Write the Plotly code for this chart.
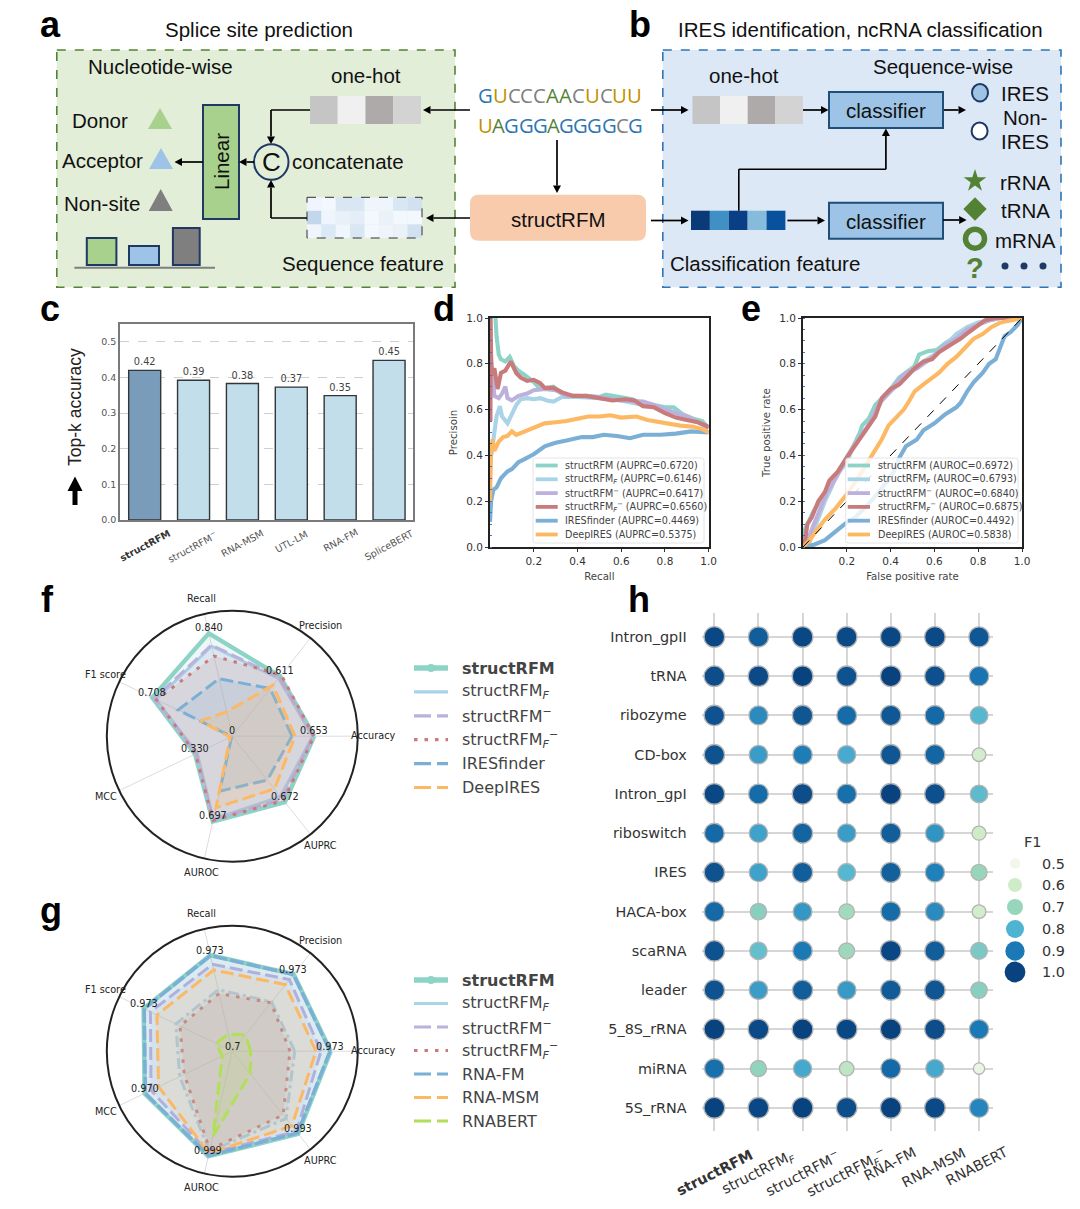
import numpy as np
import plotly.graph_objects as go

W, H = 1080, 1209
SANS = "Liberation Sans"
DJ = "DejaVu Sans"
DS = 20.5

# ---------- panel c
c_models = ["structRFM", "structRFM⁻", "RNA-MSM", "UTL-LM", "RNA-FM", "SpliceBERT"]
c_labels = ["<b>structRFM</b>", "structRFM<sup>−</sup>", "RNA-MSM", "UTL-LM", "RNA-FM", "SpliceBERT"]
c_values = [0.42, 0.392, 0.383, 0.373, 0.349, 0.448]

# ---------- panel d
d_names = ["structRFM (AUPRC=0.6720)", "structRFM<sub><i>F</i></sub> (AUPRC=0.6146)",
           "structRFM<sup>−</sup> (AUPRC=0.6417)", "structRFM<sub><i>F</i></sub><sup>−</sup> (AUPRC=0.6560)",
           "IRESfinder (AUPRC=0.4469)", "DeepIRES (AUPRC=0.5375)"]
d_teal_x = [.025,.03,.04,.05,.07,.09,.11,.13,.16,.2,.23,.26,.29,.33,.38,.44,.5,.53,.58,.65,.7,.75,.8,.84,.88,.93,.97,1]
d_teal_y = [1,.92,.84,.82,.81,.83,.79,.77,.75,.72,.69,.695,.70,.67,.655,.66,.655,.665,.655,.645,.625,.62,.61,.61,.58,.56,.55,.52]
d_lblue_x = [.003,.01,.02,.03,.045,.055,.08,.1,.12,.14,.17,.2,.23,.26,.29,.33,.4,.5,.6,.7,.8,.9,1]
d_lblue_y = [.38,.44,.50,.57,.615,.57,.54,.58,.62,.645,.65,.645,.65,.64,.635,.655,.655,.65,.64,.62,.60,.57,.52]
d_lilac_x = [.003,.01,.02,.04,.055,.07,.08,.1,.13,.17,.2,.25,.3,.35,.4,.5,.6,.7,.75,.8,.9,1]
d_lilac_y = [.85,.75,.66,.65,.67,.70,.65,.64,.66,.67,.685,.69,.685,.66,.66,.655,.64,.635,.62,.60,.57,.52]
d_red_x = [.002,.003,.006,.02,.035,.05,.07,.095,.12,.14,.17,.2,.23,.25,.29,.33,.38,.44,.5,.56,.62,.66,.7,.75,.8,.85,.9,.95,1]
d_red_y = [.55,1,.75,.78,.69,.76,.77,.81,.76,.74,.725,.73,.715,.695,.695,.675,.66,.66,.65,.64,.645,.64,.615,.61,.585,.565,.555,.545,.525]
d_blue_x = [0,.005,.015,.03,.05,.08,.1,.13,.16,.2,.25,.3,.35,.42,.47,.52,.58,.64,.7,.78,.85,.92,1]
d_blue_y = [.11,.2,.25,.26,.30,.33,.34,.37,.385,.405,.44,.455,.465,.48,.48,.49,.485,.475,.49,.49,.495,.505,.50]
d_orange_x = [0,.005,.012,.02,.04,.06,.08,.1,.12,.16,.2,.25,.3,.35,.4,.45,.5,.55,.6,.67,.72,.8,.87,.93,.97,1]
d_orange_y = [.2,.42,.47,.42,.46,.48,.485,.505,.49,.505,.52,.54,.545,.55,.56,.57,.57,.575,.565,.57,.555,.54,.53,.525,.515,.50]

# ---------- panel e
e_names = ["structRFM (AUROC=0.6972)", "structRFM<sub><i>F</i></sub> (AUROC=0.6793)",
           "structRFM<sup>−</sup> (AUROC=0.6840)", "structRFM<sub><i>F</i></sub><sup>−</sup> (AUROC=0.6875)",
           "IRESfinder (AUROC=0.4492)", "DeepIRES (AUROC=0.5838)"]
e_teal_x = [0,.01,.03,.05,.08,.1,.13,.16,.2,.23,.26,.27,.3,.33,.36,.4,.44,.48,.51,.53,.57,.61,.65,.7,.75,.8,.85,.9,1]
e_teal_y = [0,.08,.12,.16,.2,.24,.29,.33,.39,.44,.5,.53,.56,.62,.65,.69,.74,.77,.79,.84,.855,.86,.89,.92,.945,.975,.99,1,1]
e_lblue_x = [0,.03,.06,.08,.1,.13,.15,.2,.23,.27,.3,.33,.36,.4,.45,.5,.55,.6,.65,.7,.75,.8,.85,.9,1]
e_lblue_y = [0,.02,.1,.15,.2,.26,.31,.37,.44,.49,.53,.59,.64,.68,.72,.77,.81,.84,.88,.93,.96,.98,.99,1,1]
e_lilac_x = [0,.03,.05,.08,.11,.15,.19,.23,.27,.31,.35,.4,.43,.47,.52,.58,.65,.7,.75,.8,.85,.9,1]
e_lilac_y = [0,.05,.1,.17,.24,.3,.37,.44,.49,.55,.63,.68,.72,.76,.78,.82,.88,.91,.95,.97,.99,1,1]
e_red_x = [0,.01,.02,.04,.07,.1,.12,.16,.2,.23,.27,.3,.33,.36,.4,.44,.47,.51,.55,.59,.62,.67,.72,.76,.8,.83,.88,1]
e_red_y = [0,.03,.1,.13,.2,.24,.29,.33,.39,.43,.49,.53,.57,.65,.69,.71,.74,.78,.81,.82,.85,.88,.91,.94,.97,.99,1,1]
e_blue_x = [0,.05,.1,.14,.19,.24,.28,.32,.37,.41,.44,.47,.52,.55,.6,.65,.7,.72,.75,.78,.82,.85,.88,.9,.92,.95,.98,1]
e_blue_y = [0,.01,.03,.06,.1,.13,.17,.21,.27,.32,.39,.44,.47,.51,.54,.58,.61,.63,.68,.72,.76,.8,.82,.87,.92,.94,.97,1]
e_orange_x = [0,.03,.06,.1,.15,.2,.25,.29,.33,.36,.39,.43,.46,.48,.51,.55,.58,.62,.66,.7,.74,.78,.82,.86,.9,.95,1]
e_orange_y = [0,.03,.07,.12,.17,.23,.3,.36,.42,.47,.53,.57,.6,.63,.68,.71,.73,.76,.8,.83,.87,.91,.93,.96,.98,.99,1]
diag = [0, 1]

# ---------- panels f, g
metrics = ["Accuracy", "Precision", "Recall", "F1 score", "MCC", "AUROC", "AUPRC"]
f_struct = [.653, .611, .840, .708, .330, .697, .672]
f_F = [.640, .590, .735, .675, .310, .679, .615]
f_minus = [.645, .600, .745, .690, .320, .684, .642]
f_Fminus = [.650, .625, .655, .670, .325, .688, .656]
f_iresfinder = [.475, .485, .470, .480, .005, .449, .447]
f_deepires = [.500, .520, .200, .280, .020, .584, .538]

g_struct = [.973, .973, .973, .973, .970, .999, .993]
g_F = [.873, .875, .875, .874, .862, .985, .939]
g_minus = [.946, .954, .947, .952, .950, .990, .985]
g_Fminus = [.860, .872, .864, .861, .848, .980, .926]
g_rnafm = [.971, .972, .972, .971, .968, .997, .990]
g_rnamsm = [.932, .936, .931, .932, .927, .990, .965]
g_rnabert = [.751, .758, .749, .750, .731, .941, .780]

# ---------- panel h
h_rows = ["Intron_gpII", "tRNA", "ribozyme", "CD-box", "Intron_gpI", "riboswitch", "IRES",
          "HACA-box", "scaRNA", "leader", "5_8S_rRNA", "miRNA", "5S_rRNA"]
h_cols = ["structRFM", "structRFM_F", "structRFM-", "structRFM_F-", "RNA-FM", "RNA-MSM", "RNABERT"]
h_collabels = ["<b>structRFM</b>", "structRFM<sub><i>F</i></sub>", "structRFM<sup>−</sup>",
               "structRFM<sub><i>F</i></sub><sup>−</sup>", "RNA-FM", "RNA-MSM", "RNABERT"]
h_f1 = [
    [.99, .95, .99, .985, .99, .985, .96],
    [.98, .985, 1.0, .97, 1.0, .975, .91],
    [.97, .87, .965, .925, .96, .93, .79],
    [.97, .84, .895, .815, .965, .935, .59],
    [.99, .925, .98, .92, 1.0, .975, .78],
    [.93, .83, .94, .84, .95, .855, .60],
    [.97, .83, .95, .79, .945, .89, .70],
    [.93, .72, .85, .68, .925, .87, .59],
    [.97, .77, .90, .69, .99, .95, .74],
    [.97, .84, .95, .845, .955, .965, .72],
    [1.0, .985, 1.0, .99, 1.0, .98, .90],
    [.92, .71, .82, .63, .93, .82, .52],
    [1.0, .99, 1.0, .98, 1.0, .985, .88],
]
f1_legend = [.5, .6, .7, .8, .9, 1.0]
f1_sizes = [10.6, 14, 16, 18, 19.4, 20.8]
f1_scale = [[0, "#f1f7eb"], [.2, "#cfecc8"], [.4, "#98d6bb"], [.6, "#4fb3d2"], [.8, "#1b7ab6"], [1, "#08427f"]]

TEAL, LBLUE, LILAC, RED, BLUE, ORANGE, LIME = "#8dd3c7", "#a9d3e6", "#bcb0dd", "#c97b7b", "#7bafd6", "#fdb863", "#b2df5a"
DASH = "13px,5px"
DOT = "3.5px,7px"
DASHDOT = "11px,4px,3px,4px"

def dom(x0, x1, y0, y1):
    return dict(x=[x0 / W, x1 / W], y=[1 - y1 / H, 1 - y0 / H])

def rgba(h, a):
    return f"rgba({int(h[1:3],16)},{int(h[3:5],16)},{int(h[5:7],16)},{a})"

fig = go.Figure()
shapes, annos = [], []

def rect(x0, y0, x1, y1, fill=None, line=None, lw=0, dash=None, layer="above"):
    shapes.append(dict(type="rect", xref="x5", yref="y5", x0=x0, y0=y0, x1=x1, y1=y1, layer=layer,
                       fillcolor=fill or "rgba(0,0,0,0)",
                       line=dict(color=line or "rgba(0,0,0,0)", width=lw, dash=dash or "solid")))

def seg(x0, y0, x1, y1, color="black", lw=1.6, dash="solid"):
    shapes.append(dict(type="line", xref="x5", yref="y5", x0=x0, y0=y0, x1=x1, y1=y1, layer="above",
                       line=dict(color=color, width=lw, dash=dash)))

def poly(path, fill, line=None, lw=0):
    shapes.append(dict(type="path", xref="x5", yref="y5", path=path, layer="above", fillcolor=fill,
                       line=dict(color=line or "rgba(0,0,0,0)", width=lw)))

def rrect(x0, y0, x1, y1, r, fill, line=None, lw=0):
    p = (f"M{x0+r},{y0} L{x1-r},{y0} Q{x1},{y0} {x1},{y0+r} L{x1},{y1-r} Q{x1},{y1} {x1-r},{y1} "
         f"L{x0+r},{y1} Q{x0},{y1} {x0},{y1-r} L{x0},{y0+r} Q{x0},{y0} {x0+r},{y0} Z")
    poly(p, fill, line, lw)

def tri(cx, y0, y1, w, fill):
    poly(f"M{cx},{y0} L{cx+w/2},{y1} L{cx-w/2},{y1} Z", fill)

def txt(x, y, s, size=DS, color="#111", font=SANS, anchor="center", angle=0, xref="x5"):
    annos.append(dict(x=x, y=y, text=s, xref=xref, yref="y5", showarrow=False, xanchor=anchor, yanchor="middle",
                      textangle=angle, font=dict(family=font, size=size, color=color)))

def arrow(x0, y0, x1, y1, lw=1.7):
    L = np.hypot(x1 - x0, y1 - y0)
    ux, uy = (x1 - x0) / L, (y1 - y0) / L
    bx, by = x1 - ux * 7.5, y1 - uy * 7.5
    seg(x0, y0, bx, by, lw=lw)
    poly(f"M{x1},{y1} L{bx-uy*4},{by+ux*4} L{bx+uy*4},{by-ux*4} Z", "black")

# ---------- panel letters
for s, x, y in [("a", 50, 24.5), ("b", 640, 24.5), ("c", 50, 308), ("d", 444, 308),
                ("e", 751, 308), ("f", 47, 599), ("g", 51, 910), ("h", 639, 599)]:
    txt(x, y, f"<b>{s}</b>", size=36, color="black")

# ---------- panel a
rect(56.8, 50, 455, 287.3, "#e2eed8", "#548235", 1.6, "dash", layer="below")
txt(259, 29.5, "Splice site prediction")
txt(160, 66, "Nucleotide-wise")
txt(366, 75.5, "one-hot")
for i, col in enumerate(["#c6c5c5", "#f0f0f0", "#aeaaaa", "#d4d3d3"]):
    rect(310 + i * 27.75, 96, 310 + (i + 1) * 27.75, 124, col)
seg(310, 110, 271, 110); arrow(271, 110, 271, 144); arrow(470, 110, 423, 110)
shapes.append(dict(type="circle", xref="x5", yref="y5", x0=254, x1=288.5, y0=144.2, y1=179.8, layer="above",
                   fillcolor="rgba(0,0,0,0)", line=dict(color="#1f3864", width=2)))
txt(271, 162, "C", 26)
txt(348, 161, "concatenate")
rect(203, 105, 239, 219, "#a9d18e", "#1f3864", 2)
txt(221, 162, "Linear", angle=-90)
arrow(254, 162, 239, 162); arrow(203, 162, 174.5, 162)
txt(100, 120, "Donor"); tri(160, 108, 129, 24, "#a9d18e")
txt(102.6, 160.5, "Acceptor"); tri(161, 148, 169, 24, "#9dc3e6")
txt(101.6, 203, "Non-site"); tri(160.7, 189, 211, 24, "#7f7f7f")
rect(86.8, 238, 116.4, 265, "#a9d18e", "#1f3864", 2)
rect(129, 246, 159, 265, "#9dc3e6", "#1f3864", 2)
rect(172.9, 228, 199.7, 265, "#7f7f7f", "#1f3864", 2)
seg(74.4, 267.7, 215, 267.7, "#7f7f7f", 2)
heat = [["#eef5fc", "#f3f8fe", "#d9e6f4", "#d9e6f4", "#eef5fc", "#eff5fc", "#d9e6f4", "#d2e1f1"],
        ["#c3d7ec", "#eff5fc", "#e8f0f9", "#e5eef8", "#f3f8fe", "#eaf1f9", "#f3f8fe", "#f3f8fe"],
        ["#eef5fc", "#dbe8f5", "#f0f6fd", "#d9e6f4", "#f3f8fe", "#eef4fb", "#eaf1f9", "#d2e1f1"]]
for r, row in enumerate(heat):
    for i, col in enumerate(row):
        rect(307 + i * 14.375, 197.3 + r * 13.57, 307 + (i + 1) * 14.375, 197.3 + (r + 1) * 13.57, col)
rect(307, 197.3, 422, 238, None, "#333", 1, "dash")
seg(307, 218, 271, 218); arrow(271, 218, 271, 180); arrow(470, 218, 426, 218)
txt(363, 263, "Sequence feature")

# ---------- centre: each base is its own coloured text
C = {"G": "#2e75b6", "U": "#bf9000", "C": "#7f7f7f", "A": "#548235"}
BW = {"G": .73, "U": .73, "C": .63, "A": .633}
for seq, y in [("GUCCCAACUCUU", 95), ("UAGGGAGGGGCG", 125)]:
    total = sum(BW[ch] for ch in seq)
    em = 164 / total
    pos = 476
    for ch in seq:
        txt(pos, y, ch, 20.3, C[ch], "Open Sans", anchor="left")
        pos += BW[ch] * em
arrow(557, 140, 557, 193)
rrect(470, 194.7, 646, 240.7, 9, "#f8cbad")
txt(558, 219, "structRFM")

# ---------- panel b
rect(662.8, 50, 1061, 287.3, "#dce8f5", "#2e75b6", 1.6, "dash", layer="below")
txt(860, 29.5, "IRES identification, ncRNA classification")
txt(744, 75.5, "one-hot")
txt(943, 66, "Sequence-wise")
for i, col in enumerate(["#c6c5c5", "#f0f0f0", "#aeaaaa", "#d4d3d3"]):
    rect(692.5 + i * 27.6, 96, 692.5 + (i + 1) * 27.6, 124, col)
arrow(651, 110, 688.5, 110); arrow(803, 110, 828.5, 110); arrow(943, 110, 966, 110)
rect(829, 92, 943, 128, "#9dc3e6", "#1f4e79", 2); txt(886, 110.5, "classifier")
rect(829, 202.7, 943, 238.7, "#9dc3e6", "#1f4e79", 2); txt(886, 221, "classifier")
shapes.append(dict(type="circle", xref="x5", yref="y5", x0=972, x1=988, y0=84, y1=101.4, layer="above",
                   fillcolor="#9dc3e6", line=dict(color="#1f3864", width=2)))
shapes.append(dict(type="circle", xref="x5", yref="y5", x0=971.6, x1=987.6, y0=122.5, y1=139.5, layer="above",
                   fillcolor="white", line=dict(color="#1f3864", width=2)))
txt(1024.6, 93, "IRES"); txt(1024.6, 117, "Non-"); txt(1024.6, 141, "IRES")
for i, col in enumerate(["#0b3a78", "#4090c5", "#0a3f86", "#87bbdb", "#08519c"]):
    rect(691 + i * 18.88, 210.7, 691 + (i + 1) * 18.88, 230, col)
arrow(651, 220.5, 688.5, 220.5); arrow(787.4, 220.5, 825, 220.5); arrow(943, 220, 966.6, 220)
seg(738.8, 210.7, 738.8, 169.3); seg(738.8, 169.3, 885.9, 169.3); arrow(885.9, 169.3, 885.9, 128.5)
txt(1025, 182, "rRNA"); txt(1025, 210, "tRNA"); txt(1025, 240, "mRNA")
txt(975, 268, "<b>?</b>", 29, color="#548235")
txt(765, 263, "Classification feature")

fig.add_trace(go.Scatter(x=[975, 975, 975], y=[181, 209, 238.7], mode="markers", xaxis="x5", yaxis="y5",
                         showlegend=False, hoverinfo="skip",
                         marker=dict(symbol=["star", "diamond", "circle-open"], size=[17, 18, 19], color="#548235",
                                     opacity=1, line=dict(color="#548235", width=[0, 0, 5.5]))))
fig.add_trace(go.Scatter(x=[1005, 1024, 1043], y=[266, 266, 266], mode="markers", xaxis="x5", yaxis="y5",
                         showlegend=False, hoverinfo="skip", marker=dict(size=7, color="#1f3864")))

# ---------- panel c
fig.add_trace(go.Bar(x=c_models, y=c_values, width=0.655, xaxis="x", yaxis="y", showlegend=False,
                     marker=dict(color=["#7a9cbb"] + ["#c2deea"] * 5, line=dict(color="#30363a", width=1.4)),
                     text=c_values, texttemplate="%{y:.2f}", textposition="outside", cliponaxis=False,
                     textfont=dict(family=DJ, size=9.8, color="#444")))
c_pos = [(145, 545), (191.7, 546.7), (241.7, 543), (291.7, 541.7), (340, 540.7), (388, 545)]
for lab, (xx, yy) in zip(c_labels, c_pos):
    txt(xx, yy, lab, 9.6, "#333" if "<b>" in lab else "#555", DJ, angle=-28)
txt(75, 407, "Top-k accuracy", 17.5, "#222", angle=-90)
poly("M75,476.5 L82.5,491 L77.5,491 L77.5,505 L72.5,505 L72.5,491 L67.5,491 Z", "black")

# ---------- panels d, e
series_d = [(d_teal_x, d_teal_y, TEAL), (d_lblue_x, d_lblue_y, LBLUE), (d_lilac_x, d_lilac_y, LILAC),
            (d_red_x, d_red_y, RED), (d_blue_x, d_blue_y, BLUE), (d_orange_x, d_orange_y, ORANGE)]
series_e = [(e_teal_x, e_teal_y, TEAL), (e_lblue_x, e_lblue_y, LBLUE), (e_lilac_x, e_lilac_y, LILAC),
            (e_red_x, e_red_y, RED), (e_blue_x, e_blue_y, BLUE), (e_orange_x, e_orange_y, ORANGE)]
for (xs, ys, col), nm in zip(series_d, d_names):
    fig.add_trace(go.Scatter(x=xs, y=ys, mode="lines", name=nm, xaxis="x2", yaxis="y2", showlegend=False,
                             line=dict(color=col, width=4.1)))
for (xs, ys, col), nm in zip(series_e, e_names):
    fig.add_trace(go.Scatter(x=xs, y=ys, mode="lines", name=nm, xaxis="x3", yaxis="y3", showlegend=False,
                             line=dict(color=col, width=4.1)))
fig.add_trace(go.Scatter(x=diag, y=diag, mode="lines", xaxis="x3", yaxis="y3", showlegend=False,
                         line=dict(color="black", width=1, dash="dash")))

def mini_legend(x0, x1, y0, y1, lx0, lx1, tx, names):
    rrect(x0, y0, x1, y1, 2.5, "rgba(255,255,255,0.82)", "#dddddd", 0.8)
    for i, (nm, col) in enumerate(zip(names, [TEAL, LBLUE, LILAC, RED, BLUE, ORANGE])):
        yy = 465.5 + i * 13.8
        seg(lx0, yy, lx1, yy, col, 3.8)
        txt(tx, yy, nm, 9.6, "#444", DJ, anchor="left")

mini_legend(533, 704, 458, 543, 535.7, 557.7, 563, d_names)
mini_legend(845.7, 1018, 458, 543, 847.7, 870, 875.5, e_names)

# ---------- panels f, g
def radar(names_vals, sub):
    for nm, vals, col, dash, lw in names_vals:
        fig.add_trace(go.Scatterpolar(r=vals + vals[:1], theta=metrics + metrics[:1], subplot=sub, name=nm,
                                      mode="lines", fill="toself", fillcolor=rgba(col, 0.16), showlegend=False,
                                      line=dict(color=col, width=lw, dash=dash)))

radar([("structRFM", f_struct, TEAL, "solid", 4.4), ("structRFM_F", f_F, LBLUE, "solid", 3),
       ("structRFM-", f_minus, LILAC, DASH, 3), ("structRFM_F-", f_Fminus, RED, DOT, 3),
       ("IRESfinder", f_iresfinder, BLUE, DASH, 3), ("DeepIRES", f_deepires, ORANGE, DASH, 3)], "polar")
radar([("structRFM", g_struct, TEAL, "solid", 4.4), ("structRFM_F", g_F, LBLUE, DASHDOT, 3),
       ("structRFM-", g_minus, LILAC, DASH, 3), ("structRFM_F-", g_Fminus, RED, DOT, 3),
       ("RNA-FM", g_rnafm, BLUE, "14px,3px", 3.5), ("RNA-MSM", g_rnamsm, ORANGE, DASH, 3),
       ("RNABERT", g_rnabert, LIME, DASH, 3)], "polar2")

for off in (0, 315):
    for s, x, y in [("Recall", 201, 598.3), ("Precision", 320, 625.7), ("F1 score", 105.8, 674.3),
                    ("Accuracy", 372.6, 735.7), ("MCC", 105.8, 796.3), ("AUROC", 201, 872.3), ("AUPRC", 320, 845)]:
        txt(x, y + off, s, 9.7, "#222", DJ)
for s, x, y in [("0.840", 208.7, 627.7), ("0.611", 279.7, 670.7), ("0.708", 152.2, 692), ("0", 232, 730.7),
                ("0.330", 195, 748.3), ("0.653", 314, 730.3), ("0.672", 284.5, 796.3), ("0.697", 212.9, 815.7),
                ("0.973", 210.4, 950.7), ("0.973", 293, 969.3), ("0.973", 144.3, 1003.7), ("0.7", 232, 1046),
                ("0.970", 145, 1088), ("0.973", 330, 1046), ("0.993", 297.6, 1128), ("0.999", 208.4, 1150)]:
    txt(x, y, s, 9.7, "#222", DJ)

def big_legend(rows, y0, step):
    for i, (lab, col, dash, lw) in enumerate(rows):
        yy = y0 + i * step
        seg(414, yy, 448, yy, col, lw, dash)
        if i == 0:
            shapes.append(dict(type="circle", xref="x5", yref="y5", x0=427, x1=435, y0=yy - 4, y1=yy + 4, layer="above",
                               fillcolor=col, line=dict(width=0)))
        txt(460, yy, lab, 16, "#444", DJ, anchor="left")

S0 = "<b>structRFM</b>"; S1 = "structRFM<sub><i>F</i></sub>"; S2 = "structRFM<sup>−</sup>"
S3 = "structRFM<sub><i>F</i></sub><sup>−</sup>"
LD = "17px,6px"
big_legend([(S0, TEAL, "solid", 5.5), (S1, LBLUE, "solid", 3.2), (S2, LILAC, LD, 3.2), (S3, RED, DOT, 3.2),
            ("IRESfinder", BLUE, LD, 3.2), ("DeepIRES", ORANGE, LD, 3.2)], 668, 23.9)
big_legend([(S0, TEAL, "solid", 5.5), (S1, LBLUE, "solid", 3.2), (S2, LILAC, LD, 3.2), (S3, RED, DOT, 3.2),
            ("RNA-FM", BLUE, LD, 3.2), ("RNA-MSM", ORANGE, LD, 3.2), ("RNABERT", LIME, LD, 3.2)], 980, 23.5)

# ---------- panel h
xs, ys, vs = [], [], []
for r, row in zip(h_rows, h_f1):
    for c, v in zip(h_cols, row):
        xs.append(c); ys.append(r); vs.append(v)
fig.add_trace(go.Scatter(x=xs, y=ys, mode="markers", xaxis="x4", yaxis="y4", showlegend=False,
                         marker=dict(color=vs, colorscale=f1_scale, cmin=.5, cmax=1, showscale=False, opacity=1,
                                     size=np.interp(vs, f1_legend, f1_sizes),
                                     line=dict(color="#b4b4b4", width=1.3))))
h_pos = [(714, 1173), (758, 1173), (802, 1173), (846, 1173), (890, 1164), (933, 1168), (977, 1166)]
for lab, (xx, yy) in zip(h_collabels, h_pos):
    txt(xx, yy, lab, 14.4, "#333", DJ, angle=-27)
txt(1033, 842, "F1", 14.5, "#333", DJ)
f1_y = [863.5, 885, 907, 929, 951, 972]
fig.add_trace(go.Scatter(x=[1015] * 6, y=f1_y, mode="markers", xaxis="x5", yaxis="y5", showlegend=False,
                         marker=dict(color=f1_legend, colorscale=f1_scale, cmin=.5, cmax=1, opacity=1,
                                     size=f1_sizes, line=dict(width=0))))
for v, yy in zip(f1_legend, f1_y):
    txt(1053, yy, f"{v:.1f}", 14.4, "#333", DJ)

# ---------- axes
tfont = dict(family=DJ, size=10.5, color="#333")
dc = dom(120, 413, 324, 520)
dd = dom(490, 708.7, 318, 547)
de = dom(803, 1022, 318, 547)
dh = dom(701.7, 992.7, 613, 1131)

def frame(domain, title, ids, is_y=False):
    return dict(domain=domain, range=[0, 1], showgrid=False, zeroline=False, showline=True, mirror=True,
                automargin=False, linecolor="#222", linewidth=2, ticks="outside", ticklen=3, tickcolor="#333",
                tickwidth=1, tickfont=tfont, tickvals=[0, .2, .4, .6, .8, 1] if is_y else [.2, .4, .6, .8, 1],
                tickformat=".1f", anchor=ids,
                minor=dict(ticks="inside", dtick=.05, ticklen=2, tickcolor="#4472c4", tickwidth=1) if is_y else None,
                title=dict(text=title, font=dict(family=DJ, size=10.2, color="#444"), standoff=7))

def polar_layout(cx, cy, r, rng):
    return dict(domain=dict(x=[(cx - r) / W, (cx + r) / W], y=[1 - (cy + r) / H, 1 - (cy - r) / H]),
                bgcolor="white",
                radialaxis=dict(range=rng, visible=False),
                angularaxis=dict(type="category", categoryorder="array", categoryarray=metrics, rotation=0,
                                 direction="counterclockwise", showticklabels=False, ticks="",
                                 showline=True, linecolor="#222", linewidth=2,
                                 gridcolor="#dcdcdc", gridwidth=1))

fig.update_layout(
    template="none",
    width=W, height=H, margin=dict(l=0, r=0, t=0, b=0), paper_bgcolor="white", plot_bgcolor="rgba(0,0,0,0)",
    showlegend=False, shapes=shapes, annotations=annos,
    xaxis=dict(domain=dc["x"], range=[-.505, 5.49], showticklabels=False, ticks="", showline=True, mirror=True,
               showgrid=False, automargin=False,
               linecolor="#7a7a7a", linewidth=1.6, anchor="y", categoryorder="array", categoryarray=c_models),
    yaxis=dict(domain=dc["y"], range=[0, .55], tickvals=[0, .1, .2, .3, .4, .5], tickformat=".1f", showline=True,
               automargin=False,
               mirror=True, linecolor="#7a7a7a", linewidth=1.6, ticks="", gridcolor="#cfcfcf", griddash="dash",
               gridwidth=1, zeroline=False, anchor="x", tickfont=dict(family=DJ, size=9.5, color="#555")),
    xaxis2=frame(dd["x"], "Recall", "y2"), yaxis2=frame(dd["y"], "Precisoin", "x2", True),
    xaxis3=frame(de["x"], "False positive rate", "y3"), yaxis3=frame(de["y"], "True positive rate", "x3", True),
    xaxis4=dict(domain=dh["x"], range=[-.286, 6.31], categoryorder="array", categoryarray=h_cols, automargin=False,
                showticklabels=False, ticks="", gridcolor="#d6d6d6", gridwidth=1.6, zeroline=False, showline=False,
                anchor="y4"),
    yaxis4=dict(domain=dh["y"], range=[12.59, -.61], categoryorder="array", categoryarray=h_rows, automargin=False,
                ticks="", gridcolor="#d6d6d6", gridwidth=1.6, zeroline=False, showline=False, anchor="x4",
                tickfont=dict(family=DJ, size=14.4, color="#333"), ticklabelstandoff=14),
    xaxis5=dict(domain=[0, 1], range=[0, W], visible=False, anchor="y5", fixedrange=True, automargin=False),
    yaxis5=dict(domain=[0, 1], range=[H, 0], visible=False, anchor="x5", fixedrange=True, automargin=False),
    polar=polar_layout(232.3, 736.2, 125.5, [0, 1.0]),
    polar2=polar_layout(232.3, 1051.2, 125.5, [.7, 1.048]),
)

fig.write_html("out.html", config=dict(displayModeBar=False), post_script="document.body.style.margin='0';")
